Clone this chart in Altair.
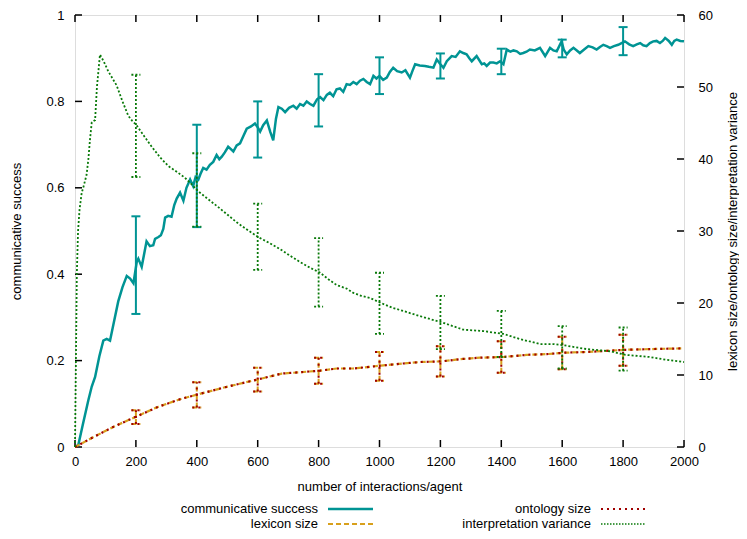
import altair as alt
import pandas as pd

# ---------------- data ----------------
cs_x = [0, 11, 25, 44, 55, 66, 80, 93, 104, 115, 128, 142, 156, 170, 181, 192, 203, 208, 219, 235,
        246, 257, 263, 274, 282, 290, 296, 306, 317, 326, 334, 345, 356, 366, 378, 388, 396, 405, 412, 421,
        432, 443, 454, 465, 474, 482, 492, 503, 511, 520, 531, 542, 553, 564, 578, 591, 600, 608, 618, 630,
        641, 651, 660, 668, 679, 690, 703, 717, 728, 739, 750, 761, 772, 783, 795, 805, 816, 827, 837, 848,
        859, 870, 881, 892, 903, 914, 925, 936, 947, 958, 969, 980, 990, 1000, 1012, 1024, 1034, 1045, 1058, 1073,
        1085, 1100, 1108, 1117, 1132, 1149, 1162, 1177, 1188, 1200, 1210, 1221, 1237, 1250, 1264, 1275, 1286, 1295, 1303, 1319,
        1336, 1344, 1352, 1363, 1374, 1385, 1396, 1407, 1418, 1430, 1440, 1451, 1462, 1472, 1483, 1494, 1510, 1527, 1544, 1560,
        1571, 1582, 1598, 1605, 1615, 1626, 1637, 1648, 1658, 1672, 1686, 1700, 1713, 1724, 1735, 1746, 1757, 1770, 1784, 1795,
        1806, 1820, 1833, 1845, 1856, 1866, 1877, 1888, 1899, 1910, 1921, 1930, 1938, 1950, 1960, 1968, 1976, 1988, 2000]
cs_v = [0.0, 0.005, 0.05, 0.109, 0.14, 0.162, 0.21, 0.246, 0.25, 0.246, 0.29, 0.337, 0.37, 0.396, 0.39, 0.379, 0.429, 0.436, 0.417, 0.476,
        0.465, 0.467, 0.482, 0.486, 0.49, 0.505, 0.531, 0.535, 0.533, 0.56, 0.575, 0.589, 0.57, 0.6, 0.619, 0.604, 0.625, 0.619, 0.632, 0.646,
        0.642, 0.653, 0.66, 0.676, 0.666, 0.672, 0.682, 0.695, 0.69, 0.684, 0.698, 0.703, 0.72, 0.737, 0.742, 0.749, 0.74, 0.73, 0.745, 0.756,
        0.73, 0.71, 0.76, 0.787, 0.783, 0.775, 0.785, 0.79, 0.783, 0.794, 0.79, 0.8, 0.794, 0.79, 0.805, 0.81, 0.803, 0.815, 0.82, 0.812,
        0.828, 0.83, 0.822, 0.84, 0.838, 0.845, 0.84, 0.848, 0.852, 0.845, 0.84, 0.859, 0.853, 0.859, 0.85, 0.855, 0.868, 0.878, 0.87, 0.867,
        0.872, 0.855, 0.87, 0.886, 0.883, 0.882, 0.88, 0.878, 0.897, 0.886, 0.878, 0.893, 0.905, 0.903, 0.916, 0.912, 0.909, 0.9, 0.893, 0.905,
        0.886, 0.888, 0.882, 0.89, 0.89, 0.888, 0.893, 0.886, 0.92, 0.915, 0.918, 0.916, 0.91, 0.912, 0.915, 0.92, 0.918, 0.924, 0.905, 0.924,
        0.918, 0.916, 0.939, 0.92, 0.909, 0.918, 0.924, 0.918, 0.912, 0.92, 0.928, 0.925, 0.92, 0.926, 0.931, 0.928, 0.924, 0.928, 0.931, 0.935,
        0.939, 0.932, 0.928, 0.932, 0.935, 0.93, 0.928, 0.935, 0.939, 0.94, 0.935, 0.94, 0.947, 0.94, 0.931, 0.94, 0.943, 0.94, 0.939]

bar_x = [200, 400, 600, 800, 1000, 1200, 1400, 1600, 1800]
cs_lo = [0.308, 0.509, 0.67, 0.742, 0.817, 0.853, 0.863, 0.902, 0.907]
cs_hi = [0.534, 0.746, 0.80, 0.863, 0.902, 0.911, 0.922, 0.943, 0.972]

iv_x = [0, 3, 6, 10, 15, 22, 27, 38, 44, 49, 55, 66, 72, 82, 95, 109, 123, 137, 156, 175,
        188, 202, 225, 252, 280, 307, 335, 361, 385, 405, 435, 465, 500, 531, 568, 604, 640, 673, 705, 739,
        772, 805, 832, 859, 892, 914, 940, 969, 1005, 1045, 1078, 1100, 1155, 1206, 1240, 1275, 1341, 1407, 1461, 1527,
        1571, 1609, 1680, 1757, 1808, 1888, 1943, 2000]
iv_v = [0, 12, 24, 30, 33, 35.3, 36, 37.8, 40, 42.6, 45.1, 45.4, 50, 54.5, 53.5, 52.2, 51.2, 50.2, 48, 46,
        45.3, 44.7, 43.3, 41.7, 40.2, 39, 38.2, 37.4, 36.4, 35.5, 34.5, 33.5, 32.3, 31.2, 30.1, 29.1, 28.3, 27.5, 26.6, 25.7,
        24.9, 24.2, 23.3, 22.5, 22.0, 21.4, 21.0, 20.7, 20.0, 19.3, 18.9, 18.6, 17.9, 17.3, 16.8, 16.3, 16.1, 15.7, 15.0, 14.3,
        14.3, 14.1, 13.6, 13.3, 12.8, 12.5, 12.1, 11.8]
iv_lo = [37.5, 30.6, 24.6, 19.5, 15.7, 13.6, 12.5, 10.9, 10.6]
iv_hi = [51.7, 40.8, 33.8, 29.0, 24.2, 21.0, 18.9, 16.8, 16.6]

lex_x = [0, 66, 131, 200, 274, 350, 403, 493, 602, 679, 744, 805, 859, 914, 1005, 1078, 1133, 1206, 1264, 1330,
         1407, 1483, 1549, 1609, 1680, 1808, 1888, 2000]
lex_v = [0, 1.5, 2.9, 4.2, 5.6, 6.7, 7.3, 8.3, 9.4, 10.2, 10.4, 10.6, 10.9, 10.9, 11.3, 11.6, 11.8, 11.9, 12.2, 12.4,
         12.5, 12.8, 12.9, 13.1, 13.2, 13.5, 13.6, 13.7]
lex_lo = [3.2, 5.5, 7.7, 8.8, 9.2, 9.8, 10.3, 10.8, 11.3]
lex_hi = [5.1, 9.0, 11.0, 12.4, 13.2, 14.0, 14.7, 15.3, 15.6]

ont_x = [0, 66, 131, 200, 274, 350, 403, 493, 602, 679, 744, 805, 859, 914, 1005, 1078, 1133, 1206, 1264, 1330,
         1407, 1483, 1549, 1609, 1680, 1808, 1888, 2000]
ont_v = [0, 1.5, 2.9, 4.2, 5.6, 6.7, 7.3, 8.3, 9.4, 10.2, 10.4, 10.6, 10.9, 10.9, 11.3, 11.6, 11.8, 11.9, 12.2, 12.4,
         12.5, 12.8, 12.9, 13.1, 13.2, 13.5, 13.6, 13.7]
ont_lo = [3.2, 5.5, 7.7, 8.8, 9.2, 9.8, 10.3, 10.8, 11.3]
ont_hi = [5.1, 9.0, 11.0, 12.4, 13.2, 14.0, 14.7, 15.3, 15.6]

x_ticks = [0, 200, 400, 600, 800, 1000, 1200, 1400, 1600, 1800, 2000]
left_ticks = [0, 0.2, 0.4, 0.6, 0.8, 1.0]
right_ticks = [0, 10, 20, 30, 40, 50, 60]

# ---------------- style ----------------
W, H = 609, 432
FONT = "Liberation Sans"
TEAL = "#009494"
GOLD = "#d8a01c"
RED = "#a00000"
GREEN = "#0a7a0a"
FS = 13

xscale = alt.Scale(domain=[0, 2000], nice=False, zero=False)
ylscale = alt.Scale(domain=[0, 1], nice=False)
yrscale = alt.Scale(domain=[0, 60], nice=False)

common = dict(ticks=False, domain=False, grid=False, labelFlush=False, labelOverlap=False,
              labelFont=FONT, labelFontSize=FS, labelColor="black",
              titleFont=FONT, titleFontSize=FS, titleFontWeight="normal", titleColor="black")

x_axis = alt.Axis(values=x_ticks, format="d", title="number of interactions/agent", labelPadding=8,
                  titleX=W / 2, titleY=39, titleBaseline="middle", titleAlign="center", **common)
yl_axis = alt.Axis(values=left_ticks, format="~g", title="communicative success", orient="left",
                   labelPadding=11, titleAngle=270, titleX=-59, titleY=H / 2,
                   titleBaseline="middle", titleAlign="center", **common)
yr_axis = alt.Axis(values=right_ticks, format="d", title="lexicon size/ontology size/interpretation variance",
                   orient="right", labelPadding=14, titleAngle=270, titleX=48, titleY=H / 2,
                   titleBaseline="middle", titleAlign="center", **common)


def X(f):
    return alt.X(f, type="quantitative", scale=xscale, axis=x_axis)


def YL(f):
    return alt.Y(f, type="quantitative", scale=ylscale, axis=yl_axis)


def YR(f):
    return alt.Y(f, type="quantitative", scale=yrscale, axis=yr_axis)


df_cs = pd.DataFrame({"x": cs_x, "v": cs_v})
df_csb = pd.DataFrame({"x": bar_x, "lo": cs_lo, "hi": cs_hi})
df_iv = pd.DataFrame({"x": iv_x, "v": iv_v})
df_ivb = pd.DataFrame({"x": bar_x, "lo": iv_lo, "hi": iv_hi})
df_lex = pd.DataFrame({"x": lex_x, "v": lex_v})
df_lexb = pd.DataFrame({"x": bar_x, "lo": lex_lo, "hi": lex_hi})
df_ont = pd.DataFrame({"x": ont_x, "v": ont_v})
df_ontb = pd.DataFrame({"x": bar_x, "lo": ont_lo, "hi": ont_hi})
df_xt = pd.DataFrame({"t": x_ticks})
df_lt = pd.DataFrame({"t": left_ticks})
df_rt = pd.DataFrame({"t": right_ticks})
one = pd.DataFrame({"a": [0]})


def errorbars(df, Y, color, width, dash=None):
    kw = dict(color=color, strokeWidth=width)
    if dash:
        kw["strokeDash"] = dash
    stem = alt.Chart(df).mark_rule(**kw).encode(x=X("x"), y=Y("lo"), y2="hi")
    cap_lo = alt.Chart(df).mark_rule(xOffset=-4.5, x2Offset=4.5, **kw).encode(x=X("x"), x2="x", y=Y("lo"))
    cap_hi = alt.Chart(df).mark_rule(xOffset=-4.5, x2Offset=4.5, **kw).encode(x=X("x"), x2="x", y=Y("hi"))
    return [stem, cap_lo, cap_hi]


# ---------------- left group ----------------
cs_line = alt.Chart(df_cs).mark_line(color=TEAL, strokeWidth=2.5).encode(x=X("x"), y=YL("v"))
left_tick_marks = alt.Chart(df_lt).mark_rule(color="black", strokeWidth=1.5).encode(
    x=alt.value(0), x2=alt.value(7), y=YL("t"))
bottom_ticks = alt.Chart(df_xt).mark_rule(color="black", strokeWidth=1.5).encode(
    x=X("t"), y=alt.value(H - 7), y2=alt.value(H))
top_ticks = alt.Chart(df_xt).mark_rule(color="black", strokeWidth=1.5).encode(
    x=X("t"), y=alt.value(0), y2=alt.value(7))


def legend_item(label, tx, ty, color, width, dash=None):
    t = alt.Chart(one).mark_text(align="right", baseline="middle", font=FONT, fontSize=FS,
                                 color="black", text=label).encode(x=alt.value(tx), y=alt.value(ty))
    kw = dict(color=color, strokeWidth=width)
    if dash:
        kw["strokeDash"] = dash
    s = alt.Chart(one).mark_rule(**kw).encode(x=alt.value(tx + 10), x2=alt.value(tx + 55), y=alt.value(ty))
    return [t, s]


legend = []
legend += legend_item("communicative success", 243, 494, TEAL, 2.5)
legend += legend_item("lexicon size", 243, 509, GOLD, 2, [5, 3])
legend += legend_item("ontology size", 516, 494, RED, 2, [2, 4])
legend += legend_item("interpretation variance", 516, 509, GREEN, 1.5, [1.5, 1.5])

left = alt.layer(
    cs_line, *errorbars(df_csb, YL, TEAL, 2),
    left_tick_marks, bottom_ticks, top_ticks, *legend
)

# ---------------- right group ----------------
lex_line = alt.Chart(df_lex).mark_line(color=GOLD, strokeWidth=2.2, strokeDash=[5, 3]).encode(x=X("x"), y=YR("v"))
ont_line = alt.Chart(df_ont).mark_line(color=RED, strokeWidth=2.2, strokeDash=[2, 4]).encode(x=X("x"), y=YR("v"))
iv_line = alt.Chart(df_iv).mark_line(color=GREEN, strokeWidth=1.8, strokeDash=[2, 2]).encode(x=X("x"), y=YR("v"))
right_tick_marks = alt.Chart(df_rt).mark_rule(color="black", strokeWidth=1.5).encode(
    x=alt.value(W - 7), x2=alt.value(W), y=YR("t"))

right = alt.layer(
    lex_line, *errorbars(df_lexb, YR, GOLD, 2, [5, 3]),
    ont_line, *errorbars(df_ontb, YR, RED, 2, [2, 4]),
    iv_line, *errorbars(df_ivb, YR, GREEN, 1.8, [2, 2]),
    right_tick_marks
)

chart = alt.layer(left, right).resolve_scale(y="independent").properties(
    width=W, height=H,
    padding={"left": 67, "top": 7, "right": 55, "bottom": 84},
    autosize=alt.AutoSizeParams(type="none"),
).configure_view(stroke="black", strokeWidth=2).configure(background="white")

chart.save("out.html", embed_options={"renderer": "svg", "actions": False})
